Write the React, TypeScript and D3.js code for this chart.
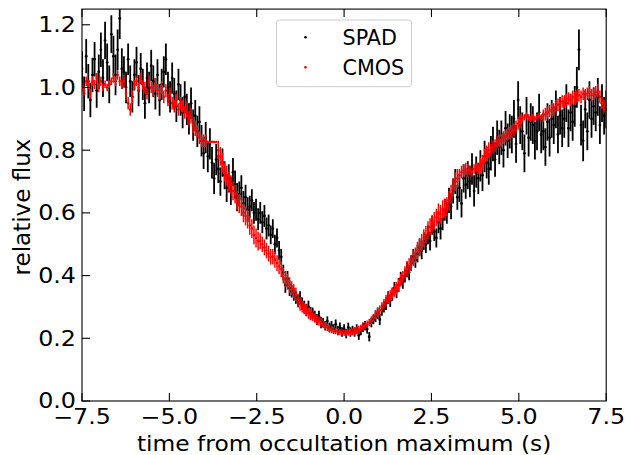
import React from 'react';
import * as d3 from 'd3';

const T0 = -7.5;
const DT = 0.06;

// SPAD relative flux, one value every 0.06 s from -7.5 s
const spadFlux = [
  1.06, 0.98, 1.10, 1.02, 0.96,
  1.04, 1.09, 0.99, 1.05, 1.12,
  1.03, 1.15, 1.08, 1.01, 1.17,
  1.10, 1.04, 1.12, 1.22, 1.06,
  1.05, 1.00, 1.09, 1.02, 0.97,
  1.04, 1.08, 0.99, 1.06, 1.01,
  0.95, 1.03, 1.00, 1.07, 1.02,
  0.98, 1.04, 0.96, 1.01, 1.05,
  1.09, 1.00, 0.97, 1.03, 0.98,
  0.94, 1.01, 0.96, 0.92, 0.97,
  0.93, 0.90, 0.95, 0.88, 0.91,
  0.86, 0.89, 0.83, 0.79, 0.84,
  0.78, 0.82, 0.76, 0.71, 0.77,
  0.74, 0.70, 0.76, 0.72, 0.68,
  0.71, 0.67, 0.73, 0.69, 0.65,
  0.66, 0.68, 0.63, 0.65, 0.61,
  0.62, 0.64, 0.60, 0.61, 0.58,
  0.60, 0.57, 0.59, 0.55, 0.56,
  0.53, 0.55, 0.50, 0.52, 0.48,
  0.46, 0.41, 0.37, 0.39, 0.36,
  0.35, 0.34, 0.33, 0.32, 0.33,
  0.31, 0.30, 0.29, 0.30, 0.28,
  0.28, 0.27, 0.26, 0.27, 0.25,
  0.25, 0.24, 0.255, 0.235, 0.24,
  0.23, 0.245, 0.225, 0.235, 0.22,
  0.23, 0.215, 0.235, 0.22, 0.225,
  0.22, 0.23, 0.21, 0.225, 0.235,
  0.24, 0.23, 0.205, 0.25, 0.26,
  0.27, 0.28, 0.26, 0.29, 0.30,
  0.31, 0.33, 0.32, 0.34, 0.36,
  0.35, 0.37, 0.39, 0.38, 0.40,
  0.42, 0.41, 0.44, 0.46, 0.45,
  0.47, 0.49, 0.48, 0.51, 0.50,
  0.53, 0.51, 0.56, 0.54, 0.52,
  0.57, 0.55, 0.58, 0.61, 0.60,
  0.64, 0.62, 0.67, 0.70, 0.65,
  0.68, 0.63, 0.71, 0.69, 0.72,
  0.70, 0.74, 0.67, 0.73, 0.71,
  0.75, 0.72, 0.78, 0.76, 0.74,
  0.79, 0.82, 0.77, 0.84, 0.81,
  0.84, 0.80, 0.87, 0.83, 0.86,
  0.85, 0.90, 0.82, 0.96, 0.88,
  0.86, 0.79, 0.91, 0.84, 0.89,
  0.88, 0.83, 0.86, 0.92, 0.85,
  0.86, 0.81, 0.89, 0.84, 0.90,
  0.88, 0.93, 0.85, 0.91, 0.87,
  0.90, 0.95, 0.87, 0.92, 0.89,
  0.94, 1.00, 1.12, 0.88, 0.83,
  0.93, 0.86, 0.96, 0.90, 0.94,
  0.92, 0.97, 0.88, 0.95, 0.91,
  0.93,
];

// SPAD error half-width, one value per group of 5 samples (0.3 s)
const spadErr = [
  0.055, 0.055, 0.06, 0.065,
  0.05, 0.05, 0.05, 0.05, 0.05,
  0.05, 0.05, 0.05, 0.05, 0.045, 0.045,
  0.04, 0.035, 0.035, 0.03,
  0.025, 0.02, 0.02, 0.018, 0.015,
  0.015, 0.015, 0.015, 0.015, 0.018,
  0.02, 0.022, 0.025, 0.028,
  0.03, 0.035, 0.04,
  0.045, 0.05, 0.05, 0.055, 0.055,
  0.06, 0.06, 0.06, 0.06, 0.06, 0.06, 0.065, 0.06, 0.06,
];

// CMOS relative flux, one value every 0.06 s from -7.5 s
const cmosFlux = [
  1.00, 0.99, 1.02, 1.01, 0.98,
  1.02, 1.01, 1.03, 1.00, 1.02,
  1.00, 1.01, 1.00, 1.01, 1.02,
  1.03, 1.02, 1.04, 1.02, 1.01,
  1.02, 0.98, 0.95, 0.93, 0.97,
  1.01, 1.02, 1.00, 1.03, 1.01,
  1.00, 0.98, 1.02, 1.00, 0.99,
  1.01, 0.99, 0.98, 1.00, 0.97,
  0.99, 0.96, 0.98, 0.95, 0.94,
  0.96, 0.93, 0.95, 0.94, 0.92,
  0.93, 0.90, 0.91, 0.88, 0.87,
  0.86, 0.84, 0.83, 0.83, 0.83,
  0.826, 0.826, 0.827, 0.826, 0.826,
  0.80, 0.78, 0.76, 0.73, 0.72,
  0.70, 0.69, 0.67, 0.66, 0.64,
  0.63, 0.62, 0.60, 0.59, 0.58,
  0.56, 0.55, 0.53, 0.52, 0.51,
  0.51, 0.50, 0.49, 0.48, 0.47,
  0.46, 0.46, 0.45, 0.44, 0.43,
  0.42, 0.40, 0.39, 0.38, 0.37,
  0.36, 0.35, 0.34, 0.32, 0.31,
  0.30, 0.295, 0.29, 0.28, 0.275,
  0.27, 0.265, 0.26, 0.255, 0.25,
  0.245, 0.24, 0.235, 0.23, 0.228,
  0.225, 0.223, 0.22, 0.22, 0.218,
  0.217, 0.216, 0.218, 0.22, 0.221,
  0.222, 0.225, 0.228, 0.232, 0.236,
  0.24, 0.245, 0.25, 0.258, 0.266,
  0.275, 0.283, 0.29, 0.30, 0.31,
  0.32, 0.33, 0.335, 0.345, 0.35,
  0.36, 0.37, 0.385, 0.395, 0.41,
  0.42, 0.43, 0.44, 0.455, 0.465,
  0.48, 0.49, 0.505, 0.52, 0.53,
  0.545, 0.555, 0.565, 0.575, 0.585,
  0.60, 0.595, 0.61, 0.615, 0.62,
  0.64, 0.66, 0.68, 0.70, 0.71,
  0.72, 0.73, 0.735, 0.74, 0.735,
  0.735, 0.73, 0.74, 0.745, 0.74,
  0.75, 0.76, 0.78, 0.79, 0.80,
  0.80, 0.81, 0.815, 0.825, 0.83,
  0.83, 0.84, 0.845, 0.85, 0.855,
  0.86, 0.865, 0.875, 0.885, 0.895,
  0.90, 0.905, 0.91, 0.905, 0.90,
  0.905, 0.90, 0.905, 0.91, 0.905,
  0.91, 0.915, 0.92, 0.925, 0.93,
  0.93, 0.94, 0.945, 0.95, 0.955,
  0.955, 0.96, 0.965, 0.96, 0.97,
  0.965, 0.97, 0.975, 0.97, 0.98,
  0.975, 0.98, 0.985, 0.975, 0.98,
  0.985, 0.99, 0.97, 0.95, 0.94,
  0.93,
];

// CMOS error half-width, one value per group of 5 samples (0.3 s)
const cmosErr = [
  0.015, 0.015, 0.012, 0.015,
  0.02, 0.015, 0.018, 0.02, 0.02,
  0.02, 0.025, 0.02, 0.0, 0.03, 0.03,
  0.03, 0.03, 0.025, 0.025,
  0.025, 0.022, 0.018, 0.015, 0.012,
  0.01, 0.01, 0.012, 0.012, 0.015,
  0.018, 0.02, 0.025, 0.028,
  0.028, 0.03, 0.03,
  0.02, 0.015, 0.025, 0.02, 0.02,
  0.02, 0.01, 0.01, 0.02, 0.02, 0.02, 0.02, 0.02, 0.02,
];

const xTicks = [-7.5, -5, -2.5, 0, 2.5, 5, 7.5];
const yTicks = [0, 0.2, 0.4, 0.6, 0.8, 1.0, 1.2];
const seriesNames = ['SPAD', 'CMOS'];
const seriesColors = ['#000000', '#ff0000'];

const fmt = (v: number) => d3.format('.1f')(v).replace('-', '\u2212');

function SText(props: { x: number; y: number; sx: number; size: number; anchor?: string; dy?: string; children: React.ReactNode }) {
  const { x, y, sx, size, anchor, dy, children } = props;
  return (
    <text transform={`translate(${x},${y}) scale(${sx},1)`} fontSize={size} textAnchor={anchor || 'start'} dy={dy} fill="#000">
      {children}
    </text>
  );
}

export default function App() {
  const W = 626, H = 455;
  const L = 82, R = 606.2, T = 9.1, B = 401;
  const x = d3.scaleLinear().domain([-7.5, 7.5]).range([L, R]);
  const y = d3.scaleLinear().domain([0, 1.25]).range([B, T]);
  const font = "'DejaVu Sans', sans-serif";
  const tickSize = 20.5;
  const tickSx = 1.16;

  const spad = spadFlux.map((f, i) => ({ t: T0 + DT * i, f, e: spadErr[Math.min(Math.floor(i / 5), spadErr.length - 1)] }));
  const cmos = cmosFlux.map((f, i) => ({ t: T0 + DT * i, f, e: cmosErr[Math.min(Math.floor(i / 5), cmosErr.length - 1)] }));

  const tickLen = 8;

  return (
    <svg width={W} height={H} style={{ position: 'absolute', left: 0, top: 0, display: 'block', background: '#fff' }}
      fontFamily={font}>
      <defs>
        <clipPath id="plotClip">
          <rect x={L} y={T} width={R - L} height={B - T} />
        </clipPath>
      </defs>
      <g clipPath="url(#plotClip)">
        <g>
          {spad.map((d, i) => (
            <g key={'s' + i}>
              <line x1={x(d.t)} x2={x(d.t)} y1={y(d.f - d.e)} y2={y(d.f + d.e)} stroke={seriesColors[0]} strokeWidth={1.8} />
              <circle cx={x(d.t)} cy={y(d.f)} r={1.4} fill={seriesColors[0]} />
            </g>
          ))}
        </g>
        <g>
          {cmos.map((d, i) => (
            <g key={'c' + i}>
              {d.e > 0 && <line x1={x(d.t)} x2={x(d.t)} y1={y(d.f - d.e)} y2={y(d.f + d.e)} stroke={seriesColors[1]} strokeWidth={1.5} />}
              <circle cx={x(d.t)} cy={y(d.f)} r={1.3} fill={seriesColors[1]} />
            </g>
          ))}
        </g>
      </g>
      <rect x={L} y={T} width={R - L} height={B - T} fill="none" stroke="#000" strokeWidth={1.1} />
      {xTicks.map((v) => (
        <g key={'xt' + v}>
          <line x1={x(v)} x2={x(v)} y1={B} y2={B - tickLen} stroke="#000" strokeWidth={1.1} />
          <line x1={x(v)} x2={x(v)} y1={T} y2={T + tickLen} stroke="#000" strokeWidth={1.1} />
          <SText x={x(v)} y={424} sx={tickSx} size={tickSize} anchor="middle">{fmt(v)}</SText>
        </g>
      ))}
      {yTicks.map((v) => (
        <g key={'yt' + v}>
          <line x1={L} x2={L + tickLen} y1={y(v)} y2={y(v)} stroke="#000" strokeWidth={1.1} />
          <SText x={76} y={y(v)} sx={tickSx} size={tickSize} anchor="end" dy="0.36em">{fmt(v)}</SText>
        </g>
      ))}
      <SText x={(L + R) / 2} y={451} sx={1.14} size={20.5} anchor="middle">time from occultation maximum (s)</SText>
      <text transform={`translate(29.5,${(T + B) / 2 + 2}) rotate(-90)`} fontSize={23} textAnchor="middle" fill="#000">relative flux</text>
      <g>
        <rect x={276.5} y={20} width={135} height={66.7} rx={3} ry={3} fill="#fff" fillOpacity={0.8} stroke="#cccccc" strokeWidth={1} />
        {seriesNames.map((name, i) => (
          <g key={name}>
            <circle cx={305.5} cy={37.3 + i * 30} r={1.3} fill={seriesColors[i]} />
            <text x={342.5} y={44.5 + i * 30} fontSize={20.7} fill="#000">{name}</text>
          </g>
        ))}
      </g>
    </svg>
  );
}
